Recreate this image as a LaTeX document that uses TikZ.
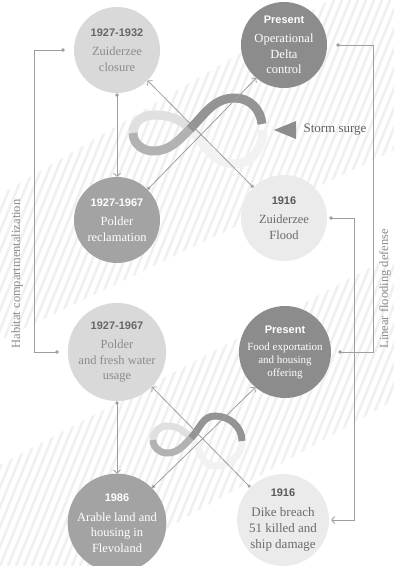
\documentclass[tikz,border=0pt]{standalone}
\usepackage{fontspec}
\setmainfont{Liberation Serif}
\setsansfont{Liberation Sans}
\usetikzlibrary{arrows.meta}

\newcommand{\yr}[2][.]{\textcolor{#1}{\sffamily\bfseries\fontsize{11}{13}\selectfont #2}\\[4pt]}

\begin{document}
\begin{tikzpicture}[x=1pt,y=1pt,
        ball/.style={circle, minimum size=86pt, inner sep=0pt, align=center, font=\fontsize{12.5}{15.5}\selectfont},
        paleball/.style={ball, fill=black!8, text=black!58},
        lightball/.style={ball, fill=black!15, text=black!45},
        midball/.style={ball, fill=black!36, text=white},
        darkball/.style={ball, fill=black!45, text=white},
        link/.style={draw=black!38, line width=0.8pt},
        dotarrow/.style={arrows={Circle[length=3.5pt]-Straight Barb[length=3pt,width=7pt]}},
        dotdot/.style={arrows={Circle[length=3.5pt]-Circle[length=3.5pt]}},
        sidelabel/.style={text=black!45, font=\fontsize{12.5}{15}\selectfont},
        stripe/.style={draw=black!6, line width=2.5pt},
        loopa/.style={line width=9pt},
        loopb/.style={line width=7pt}]
        \fill[white] (0,0) rectangle (394,566);
        \useasboundingbox (0,0) rectangle (394,566);
        \begin{scope}
            \clip (0,226) -- (0,371) -- (330,566) -- (394,566) -- (394,416) -- cycle;
            \foreach \s in {-240,-232,...,400} \draw[stripe] (\s,0) -- ++(230,566);
        \end{scope}
        \begin{scope}
            \clip (0,0) -- (0,101) -- (394,311) -- (394,166) -- (100,0) -- cycle;
            \foreach \s in {-240,-232,...,400} \draw[stripe] (\s,0) -- ++(230,566);
        \end{scope}

        \draw[loopa, black!5] (263,436) to[out=-90,in=0] (235,402) to[out=180,in=-45] (190,437);
        \draw[loopa, black!12] (190,437) to[out=135,in=0] (153,451) to[out=180,in=90] (133,433);
        \draw[loopa, black!30] (133,433) to[out=-90,in=180] (153,415) to[out=0,in=225] (190,437);
        \draw[loopa, black!42] (190,437) to[out=45,in=180] (235,468) to[out=0,in=95] (262,442);

        \draw[loopb, black!5] (242,125) to[out=-90,in=0] (215,100) to[out=180,in=-45] (191,128);
        \draw[loopb, black!12] (191,128) to[out=135,in=0] (167,140) to[out=180,in=90] (153,126);
        \draw[loopb, black!30] (153,126) to[out=-90,in=180] (167,113) to[out=0,in=225] (191,128);
        \draw[loopb, black!42] (191,128) to[out=45,in=180] (215,150) to[out=0,in=90] (242,125);

        \node (closure) [lightball] at (117,516) {\yr[black!60]{1927-1932}Zuiderzee\\closure};
        \node (reclaim) [midball] at (117,346) {\yr{1927-1967}Polder\\reclamation};
        \node (delta) [darkball] at (284,521) {\yr{Present}Operational\\Delta\\control};
        \node (flood) [paleball] at (284,348) {\yr[black!65]{1916}Zuiderzee\\Flood};
        \node (polder) [lightball] at (117,214) {\yr[black!60]{1927-1967}Polder\\and fresh water\\usage};
        \node (export) [darkball, font=\fontsize{11}{13}\selectfont] at (285,214) {\yr{Present}Food exportation\\and housing\\offering};
        \node (arable) [midball] at (117,43) {\yr{1986}Arable land and\\housing in\\Flevoland};
        \node (breach) [paleball, font=\fontsize{13}{16}\selectfont] at (283,46) {\yr[black!65]{1916}Dike breach\\51 killed and\\ship damage};

        \node (surge) [anchor=west, text=black!62, font=\fontsize{13}{15}\selectfont] at (300,436) {Storm surge};
        \fill[black!45] ([xshift=-4pt]surge.west) -- ++(0,9) -- ++(-22,-9) -- ++(22,-9) -- cycle;

        \node (habitat) [sidelabel, rotate=90, anchor=west] at (17,214) {Habitat compartmentalization};
        \node (linear) [sidelabel, rotate=90, anchor=west] at (385,214) {Linear flooding defense};

        \draw[link, dotarrow] (closure.south) -- (reclaim.north);
        \draw[link, dotarrow] (reclaim.45) -- (delta.230);
        \draw[link, dotarrow] (flood.135) -- (closure.-45);
        \draw[link, dotdot] ([xshift=-9pt]closure.west) -- ++(-30,0) |- ([xshift=-9pt]polder.west);
        \draw[link, dotdot] ([xshift=9pt]delta.east) -- ++(37,0) |- ([xshift=7pt]export.east);
        \draw[link, dotarrow] ([xshift=2pt]flood.east) -- ++(25,0) |- ([xshift=2pt]breach.east);
        \draw[link, dotarrow] (polder.south) -- (arable.north);
        \draw[link, dotarrow] (arable.45) -- (export.230);
        \draw[link, dotarrow] (breach.135) -- (polder.-45);
    \end{tikzpicture}
\end{document}
